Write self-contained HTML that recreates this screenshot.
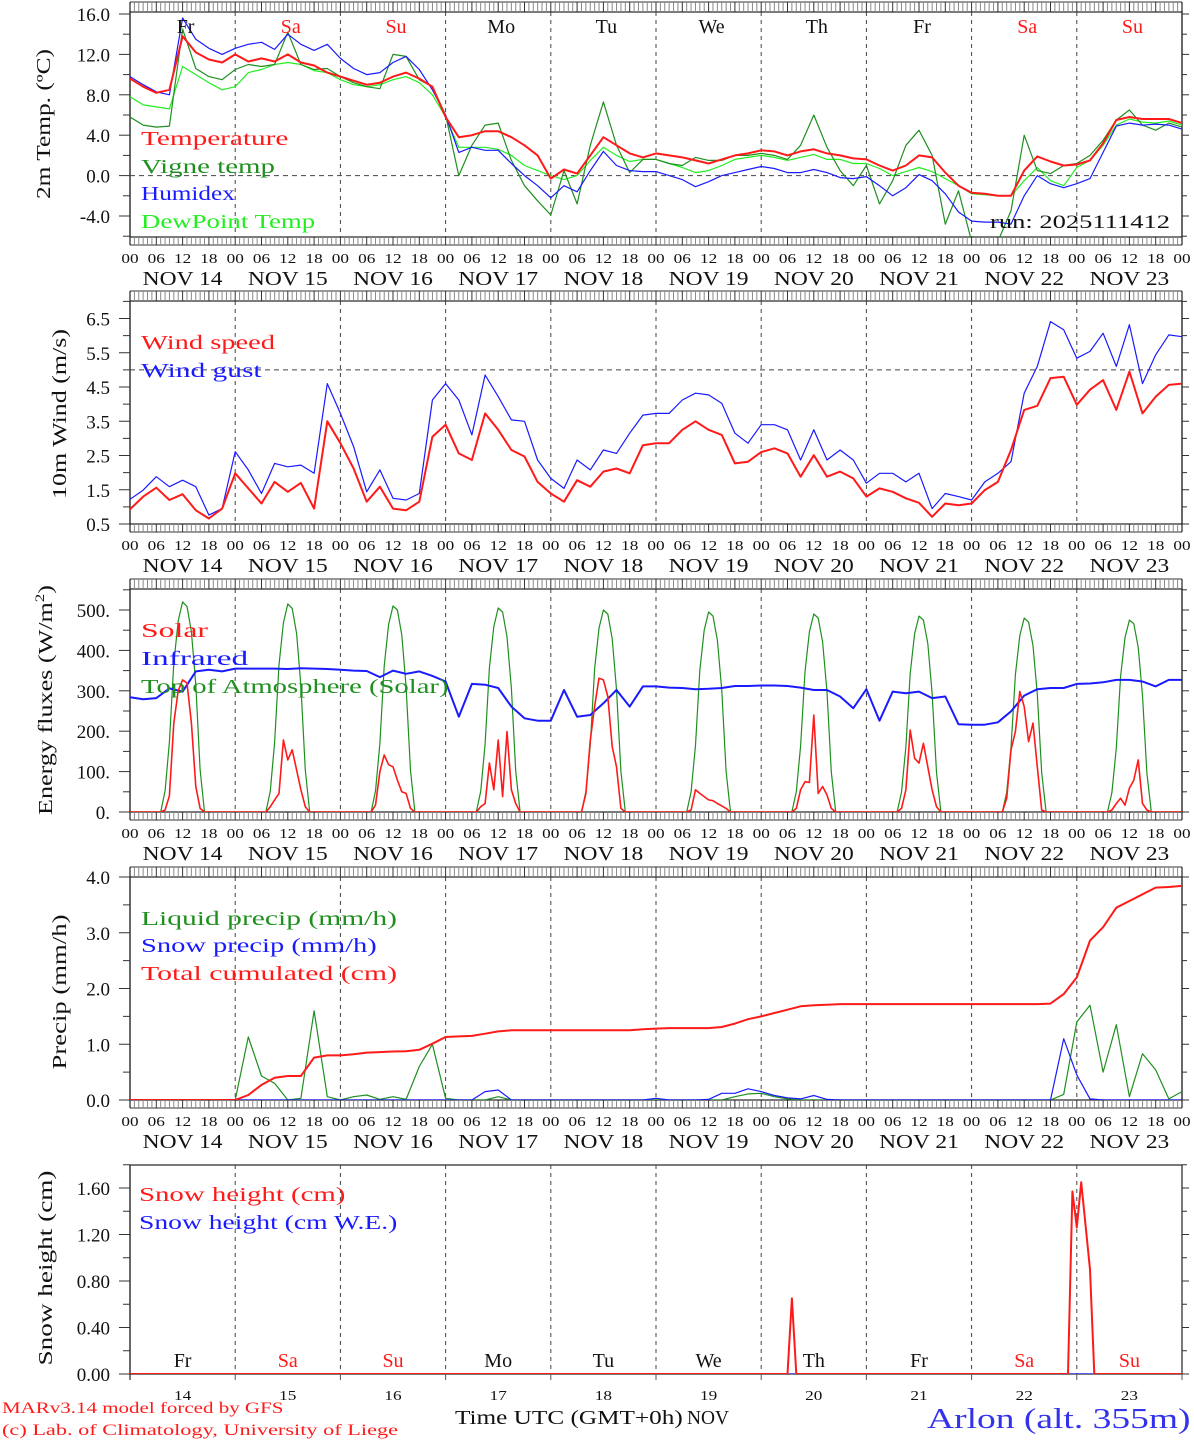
<!DOCTYPE html>
<html><head><meta charset="utf-8"><title>MAR forecast Arlon</title>
<style>html,body{margin:0;padding:0;background:#fff}svg{display:block}text{font-family:"Liberation Serif",serif}</style>
</head><body>
<svg id="chart" xmlns="http://www.w3.org/2000/svg" width="1194" height="1440" viewBox="0 0 1194 1440"></svg>
<script>
// ---------- DATA (3-hourly from NOV 14 00 UTC, 81 points) ----------
const dayNames = ["Fr","Sa","Su","Mo","Tu","We","Th","Fr","Sa","Su"];
const dayNums = ["14","15","16","17","18","19","20","21","22","23"];
const hourLabels = ["00","06","12","18"];
const tempTicks = [16,12,8,4,0,-4];
const windTicks = [6.5,5.5,4.5,3.5,2.5,1.5,0.5];
const fluxTicks = [500,400,300,200,100,0];
const precipTicks = [4,3,2,1,0];
const snowTicks = [1.6,1.2,0.8,0.4,0];

const temperature = [9.6,8.8,8.2,8.5,13.8,12.2,11.5,11.2, 12.0,11.3,11.6,11.3,12.0,11.2,10.9,10.2, 9.8,9.4,9.0,9.2,9.8,10.2,9.6,8.8, 5.8,3.8,4.0,4.4,4.4,3.8,3.0,2.0, -0.3,0.6,0.2,2.0,3.8,3.0,2.2,1.8, 2.2,2.0,1.8,1.5,1.2,1.6,2.0,2.2, 2.5,2.4,2.0,2.4,2.6,2.2,2.0,1.7, 1.6,1.0,0.5,1.0,2.0,1.8,0.3,-1.0, -1.7,-1.8,-2.0,-2.0,0.5,1.9,1.4,1.0, 1.1,1.5,3.2,5.5,5.8,5.6,5.6,5.6,5.2];
const vigneTemp = [5.8,5.0,4.8,4.9,14.5,10.6,9.8,9.5, 10.5,11.0,10.8,11.0,14.2,11.0,10.5,10.6, 9.8,9.2,8.8,8.6,12.0,11.8,9.5,8.8, 6.0,0.0,3.0,5.0,5.2,1.5,-1.0,-2.5, -3.9,0.5,-2.8,3.0,7.3,3.0,0.3,1.6, 1.6,1.2,1.0,1.8,1.5,1.5,2.0,2.0, 2.2,2.0,1.6,3.0,6.0,2.8,0.5,-1.0, 1.0,-2.8,-0.5,3.0,4.5,2.0,-4.8,-1.5, -6.5,-6.5,-6.5,-3.5,4.0,0.5,0.2,1.0, 1.2,2.0,3.5,5.5,6.5,5.0,4.5,5.2,4.8];
const humidex = [9.8,9.0,8.3,8.0,15.6,13.5,12.6,12.0, 12.6,13.0,13.2,12.5,14.0,13.0,12.4,13.0, 11.6,10.6,10.0,10.2,11.2,11.8,10.5,8.5, 6.0,2.3,2.8,2.5,2.5,1.2,0.0,-1.0, -2.2,-1.0,-1.6,0.5,2.4,1.0,0.5,0.4, 0.4,0.0,-0.4,-1.1,-0.6,0.0,0.3,0.6, 0.9,0.7,0.3,0.3,0.6,0.3,-0.2,-0.3, -0.1,-1.0,-2.0,-1.2,0.1,-0.5,-1.8,-3.6, -4.5,-4.6,-4.6,-4.8,-2.0,0.0,-0.8,-1.2, -0.8,-0.3,2.3,4.9,5.2,5.0,5.1,5.0,4.6];
const dewPoint = [7.8,7.0,6.8,6.6,10.8,10.0,9.2,8.5, 8.8,10.2,10.5,11.0,11.2,11.0,10.4,10.2, 9.5,9.0,8.8,9.0,9.5,9.8,9.2,8.0, 5.8,2.8,2.8,2.8,2.6,2.0,1.0,0.5, 0.0,-0.4,0.0,1.5,2.8,2.0,1.4,1.6, 1.6,1.2,0.8,0.3,0.5,1.0,1.6,1.8, 2.0,1.8,1.5,1.8,2.1,1.6,1.6,1.2, 1.2,0.7,0.0,0.4,0.8,0.4,-0.3,-1.0, -1.8,-1.9,-2.0,-2.0,-0.5,0.8,-0.5,-1.0, 0.8,1.5,3.0,5.0,5.6,5.3,5.2,5.4,5.0];

const windSpeed = [0.93,1.30,1.56,1.2,1.37,0.9,0.66,0.95, 1.98,1.54,1.1,1.73,1.44,1.7,0.95,3.5, 2.86,2.12,1.15,1.59,0.95,0.9,1.15,3.05, 3.4,2.56,2.37,3.73,3.25,2.66,2.47,1.73, 1.39,1.15,1.78,1.59,2.03,2.12,1.98,2.8, 2.86,2.86,3.25,3.5,3.25,3.1,2.27,2.32, 2.6,2.71,2.56,1.88,2.51,1.88,2.03,1.83, 1.3,1.54,1.44,1.25,1.12,0.71,1.1,1.05, 1.1,1.49,1.73,2.66,3.83,3.95,4.76,4.8, 3.98,4.42,4.7,3.83,4.95,3.73,4.22,4.56,4.6];
const windGust = [1.22,1.49,1.88,1.59,1.78,1.59,0.76,0.95, 2.61,2.08,1.39,2.27,2.17,2.22,1.98,4.6, 3.73,2.76,1.44,2.08,1.25,1.2,1.39,4.12, 4.6,4.12,3.1,4.85,4.22,3.54,3.5,2.37, 1.83,1.54,2.37,2.08,2.66,2.56,3.15,3.68, 3.73,3.73,4.12,4.32,4.27,4.02,3.15,2.86, 3.4,3.4,3.25,2.37,3.25,2.37,2.66,2.37, 1.69,1.98,1.98,1.73,1.98,0.95,1.39,1.3, 1.2,1.73,1.98,2.32,4.32,5.1,6.41,6.17, 5.34,5.54,6.07,5.1,6.32,4.6,5.44,6.02,5.97];

const infrared = [284,279,282,306,298,348,352,348, 355,355,355,355,354,356,355,354, 352,350,349,334,350,342,348,337, 323,236,317,315,307,261,232,226, 226,302,236,240,269,302,261,311, 311,308,307,304,305,307,312,312, 313,313,312,308,302,302,286,257, 304,226,298,294,298,282,286,217, 216,216,222,249,288,304,307,307, 317,318,321,327,327,323,311,327,327];

// hourly (241 points)
const solar = [
0,0,0,0,0,0,0,0,5,40,220,300,327,319,220,63,9,0,0,0,0,0,0,0,
0,0,0,0,0,0,0,0,13,30,46,178,129,154,104,55,13,0,0,0,0,0,0,0,
0,0,0,0,0,0,0,0,17,100,141,117,112,79,50,46,9,0,0,0,0,0,0,0,
0,0,0,0,0,0,0,0,13,21,121,55,178,38,199,55,21,0,0,0,0,0,0,0,
0,0,0,0,0,0,0,0,46,178,261,331,327,286,162,112,9,0,0,0,0,0,0,0,
0,0,0,0,0,0,0,0,5,55,46,38,30,28,21,15,9,0,0,0,0,0,0,0,
0,0,0,0,0,0,0,0,9,55,75,73,240,46,63,42,9,0,0,0,0,0,0,0,
0,0,0,0,0,0,0,0,9,55,203,133,121,170,112,55,13,0,0,0,0,0,0,0,
0,0,0,0,0,0,0,0,34,154,199,298,261,174,220,112,5,0,0,0,0,0,0,0,
0,0,0,0,0,0,0,0,5,21,34,17,59,79,129,21,5,0,0,0,0,0,0,0,
0];
const toaSolar = [
0,0,0,0,0,0,0,0,53,173,368,473,520,509,446,315,105,0,0,0,0,0,0,0,
0,0,0,0,0,0,0,0,52,172,364,468,515,504,442,312,104,0,0,0,0,0,0,0,
0,0,0,0,0,0,0,0,52,170,361,464,510,500,438,309,103,0,0,0,0,0,0,0,
0,0,0,0,0,0,0,0,51,168,357,459,505,495,434,306,102,0,0,0,0,0,0,0,
0,0,0,0,0,0,0,0,51,167,354,455,500,490,429,303,101,0,0,0,0,0,0,0,
0,0,0,0,0,0,0,0,50,165,350,450,495,485,425,300,100,0,0,0,0,0,0,0,
0,0,0,0,0,0,0,0,50,163,347,446,490,480,421,297,99,0,0,0,0,0,0,0,
0,0,0,0,0,0,0,0,49,162,343,441,485,475,417,294,98,0,0,0,0,0,0,0,
0,0,0,0,0,0,0,0,49,160,340,437,480,470,412,291,97,0,0,0,0,0,0,0,
0,0,0,0,0,0,0,0,48,158,336,432,475,466,408,288,96,0,0,0,0,0,0,0,
0];

const liquidPrecip = [0,0,0,0,0,0,0,0,0, 1.13,0.43,0.3,0,0.03,1.6,0.06,0,0.06,0.09,0.01,0.06,0.01,0.6,1.0,0.03,0,0,0,0.06,0, 0,0,0,0,0,0,0,0,0,0,0,0,0,0,0,0, 0.06,0.11,0.12,0.06,0.02, 0,0,0,0,0,0,0,0,0,0,0,0,0,0,0,0,0,0,0,0, 0.1,1.4,1.7,0.5,1.35,0.06,0.83,0.54,0.02,0.15];
const snowPrecip = [0,0,0,0,0,0,0,0,0,0,0,0,0,0,0,0,0,0,0,0,0,0,0,0,0,0,0, 0.15,0.18, 0,0,0,0,0,0,0,0,0,0,0, 0.03, 0,0,0, 0.01,0.12,0.12,0.2,0.15,0.08,0.04,0.02,0.08,0.01, 0,0,0,0,0,0,0,0,0,0,0,0,0,0,0,0,0, 1.1,0.45,0.02, 0,0,0,0,0,0,0];
const totalCum = [0,0,0,0,0,0,0,0,0, 0.09,0.27,0.40,0.43,0.43,0.76,0.80,0.80,0.82,0.85,0.86,0.87,0.875,0.90,1.01,1.13,1.14,1.15,1.19,1.23, 1.25,1.25,1.25,1.25,1.25,1.25,1.25,1.25,1.25,1.25, 1.27,1.28, 1.29,1.29,1.29,1.29, 1.31,1.37,1.45,1.50,1.56,1.62,1.68,1.70,1.71, 1.72,1.72,1.72,1.72,1.72,1.72,1.72,1.72,1.72,1.72,1.72,1.72,1.72,1.72,1.72,1.72, 1.73,1.90,2.20,2.86,3.10,3.45,3.57,3.69,3.81,3.82,3.84];

const snowHours = [0,150,151,152,214,215,216,217,219,220,240];
const snowHeight = [0,0,0.65,0,0,1.57,1.26,1.65,0.9,0,0];
const snowWE = [0,0,0,0,0,0,0,0,0,0,0];

// ---------- DRAWING ----------
const NS = "http://www.w3.org/2000/svg";
const svg = document.getElementById("chart");
const X0 = 130, X1 = 1182;
function xh(h){ return X0 + h*(X1-X0)/240; }
function mk(tag, attrs, parent){ const e=document.createElementNS(NS,tag); for(const k in attrs) e.setAttribute(k,attrs[k]); (parent||svg).appendChild(e); return e; }
function txt(x,y,s,size,fill,anchor,cw,parent){ const a={x:x,y:y,'font-size':size,fill:fill||'#000','text-anchor':anchor||'start'}; if(cw){a.textLength=(s.length*cw).toFixed(1);a.lengthAdjust='spacingAndGlyphs';} const t=mk('text',a,parent); t.textContent=s; return t; }

const RED="#ff1a1a", BLUE="#1a1aff", DGREEN="#1f8f1f", LGREEN="#22ee22";

function makePanel(p){
  const g = mk('g',{});
  
  
  const ys = v => p.yA + (v - p.vA)*(p.yB - p.yA)/(p.vB - p.vA);
  p.ys = ys;
  const cid = 'clip-'+p.name;
  const cp = mk('clipPath',{id:cid},g);
  mk('rect',{x:X0,y:p.top,width:X1-X0,height:p.bot-p.top},cp);
  const fr = mk('rect',{x:X0,y:p.top,width:X1-X0,height:p.bot-p.top,fill:'none',stroke:'#222','stroke-width':1.2},g);
  
  
  if(p.strips){
    [[p.top-10,p.top],[p.bot,p.bot+8]].forEach(([a,b])=>{
      mk('line',{x1:X0,y1:(a===p.top-10?a:b),x2:X1,y2:(a===p.top-10?a:b),stroke:'#333','stroke-width':1},g);
      for(let h=0;h<=240;h++){ const x=xh(h); mk('line',{x1:x,y1:a,x2:x,y2:b,stroke:(h%6===0?'#333':'#888'),'stroke-width':1},g); }
    });
    mk('line',{x1:X0,y1:p.top-10,x2:X0,y2:p.bot+8,stroke:'#222','stroke-width':1.2},g);
    mk('line',{x1:X1,y1:p.top-10,x2:X1,y2:p.bot+8,stroke:'#222','stroke-width':1.2},g);
  } else {
    mk('line',{x1:X0,y1:p.top,x2:X0,y2:p.bot+6,stroke:'#222','stroke-width':1.2},g);
    for(let d=1; d<=10; d++){ mk('line',{x1:xh(d*24),y1:p.bot,x2:xh(d*24),y2:p.bot+6,stroke:'#555'},g); }
  }
  for(let d=1; d<10; d++){ const x=xh(d*24); const l=mk('line',{x1:x,y1:p.top,x2:x,y2:p.bot,stroke:'#444','stroke-width':1,'stroke-dasharray':'4,4'},g);   }
  if(p.hline!==undefined){ mk('line',{x1:X0,y1:ys(p.hline),x2:X1,y2:ys(p.hline),stroke:'#444','stroke-dasharray':'5,4'},g); }
  for(let v=p.minorStart; v<=p.minorEnd+1e-9; v+=p.minorStep){
    const y=ys(v); const major = p.ticks.some(t=>Math.abs(t-v)<1e-6);
    mk('line',{x1:X0-(major?11:7),y1:y,x2:X0,y2:y,stroke:'#333'},g);
    mk('line',{x1:X1,y1:y,x2:X1+(major?7:5),y2:y,stroke:'#333'},g);
  }
  p.ticks.forEach(v=>{ const t=txt(110,ys(v)+7,p.fmt(v),19,'#111','end',null,g);   });
  const tt = mk('text',{x:0,y:0,'font-size':20,fill:'#111','text-anchor':'middle',textLength:p.titleLen,lengthAdjust:'spacingAndGlyphs',transform:`translate(${p.titleX},${p.titleY}) rotate(-90)`},g);
  
  
  if(p.titleSup){ tt.textContent=p.title; const ts=mk('tspan',{dy:-8,'font-size':13},tt); ts.textContent=p.titleSup; const t2=mk('tspan',{dy:8},tt); t2.textContent=')'; }
  else tt.textContent=p.title;
  if(p.strips){
    for(let d=0; d<10; d++){
      for(let k=0;k<4;k++){ const t=txt(xh(d*24+k*6),p.bot+26,hourLabels[k],14,'#111','middle',8.6,g);   }
      const t=txt(xh(d*24+12),p.bot+48,'NOV '+dayNums[d],20,'#111','middle',13.3,g);  
    }
    const t=txt(xh(240),p.bot+26,'00',14,'#111','middle',8.6,g);  
  }
  p.g = g; p.clip = cid;
  return p;
}
function series(p, hours, vals, color, w, name){
  const pts = vals.map((v,i)=>xh(hours[i]).toFixed(1)+','+p.ys(v).toFixed(1)).join(' ');
  const pl = mk('polyline',{points:pts,fill:'none',stroke:color,'stroke-width':w,'stroke-linejoin':'round','clip-path':`url(#${p.clip})`},p.g);
  
  
}
function legend(p, x, y, s, color, name, cw){
  const t = txt(x,y,s,20,color,'start',cw||13.4,p.g);
  
  
}
const h3 = temperature.map((_,i)=>i*3);
const h1 = solar.map((_,i)=>i);

const P1 = makePanel({name:'temperature-panel',top:12,bot:237,vA:16,yA:14,vB:-4,yB:216,strips:true,hline:0,ticks:tempTicks,minorStart:-6,minorEnd:16,minorStep:2,fmt:v=>v.toFixed(1),title:'2m Temp. (ºC)',titleLen:150,titleX:50,titleY:124});
series(P1,h3,dewPoint,LGREEN,1.2,'dewpoint-line');
series(P1,h3,vigneTemp,DGREEN,1.2,'vigne-temp-line');
series(P1,h3,humidex,BLUE,1.2,'humidex-line');
series(P1,h3,temperature,RED,2,'temperature-line');
legend(P1,141,145,'Temperature',RED,'legend-temperature');
legend(P1,141,173,'Vigne temp',DGREEN,'legend-vigne-temp');
legend(P1,141,200,'Humidex',BLUE,'legend-humidex');
legend(P1,141,228,'DewPoint Temp',LGREEN,'legend-dewpoint');
{ const t=txt(990,228,'run: 2025111412',19,'#111','start',12,P1.g);   }
for(let d=0; d<10; d++){ const c=(dayNames[d]==='Sa'||dayNames[d]==='Su')?RED:'#111'; const t=txt(xh(d*24+12)+3,33,dayNames[d],20,c,'middle',null,P1.g);   }

const P2 = makePanel({name:'wind-panel',top:301,bot:524,vA:6.5,yA:318.5,vB:0.5,yB:524,strips:true,hline:5,ticks:windTicks,minorStart:0.5,minorEnd:7,minorStep:0.5,fmt:v=>v.toFixed(1),title:'10m Wind (m/s)',titleLen:170,titleX:66,titleY:414});
series(P2,h3,windGust,BLUE,1.2,'wind-gust-line');
series(P2,h3,windSpeed,RED,2,'wind-speed-line');
legend(P2,141,349,'Wind speed',RED,'legend-wind-speed');
legend(P2,141,377,'Wind gust',BLUE,'legend-wind-gust');

const P3 = makePanel({name:'energy-flux-panel',top:589,bot:812,vA:500,yA:610,vB:0,yB:812,strips:true,ticks:fluxTicks,minorStart:0,minorEnd:550,minorStep:50,fmt:v=>v.toFixed(0)+'.',title:'Energy fluxes (W/m',titleSup:'2',titleLen:230,titleX:52,titleY:700});
series(P3,h1,toaSolar,DGREEN,1.2,'toa-solar-line');
series(P3,h3,infrared,BLUE,2,'infrared-line');
series(P3,h1,solar,RED,1.6,'solar-line');
legend(P3,141,637,'Solar',RED,'legend-solar');
legend(P3,141,665,'Infrared',BLUE,'legend-infrared');
legend(P3,141,693,'Top of Atmosphere (Solar)',DGREEN,'legend-toa',12.3);

const P4 = makePanel({name:'precip-panel',top:877,bot:1100,vA:4,yA:877,vB:0,yB:1100,strips:true,ticks:precipTicks,minorStart:0,minorEnd:4,minorStep:0.5,fmt:v=>v.toFixed(1),title:'Precip (mm/h)',titleLen:155,titleX:66,titleY:992});
series(P4,h3,liquidPrecip,DGREEN,1.2,'liquid-precip-line');
series(P4,h3,snowPrecip,BLUE,1.2,'snow-precip-line');
series(P4,h3,totalCum,RED,2,'total-cumulated-line');
legend(P4,141,925,'Liquid precip (mm/h)',DGREEN,'legend-liquid-precip',12.8);
legend(P4,141,952,'Snow precip (mm/h)',BLUE,'legend-snow-precip',13.1);
legend(P4,141,980,'Total cumulated (cm)',RED,'legend-total-cumulated',12.8);

const P5 = makePanel({name:'snow-height-panel',top:1165,bot:1374,vA:1.6,yA:1188,vB:0,yB:1374,strips:false,ticks:snowTicks,minorStart:0,minorEnd:1.8,minorStep:0.2,fmt:v=>v.toFixed(2),title:'Snow height (cm)',titleLen:195,titleX:52,titleY:1268});
series(P5,snowHours,snowWE,BLUE,1.2,'snow-we-line');
series(P5,snowHours,snowHeight,RED,2,'snow-height-line');
legend(P5,139,1201,'Snow height (cm)',RED,'legend-snow-height',12.9);
legend(P5,139,1229,'Snow height (cm W.E.)',BLUE,'legend-snow-we',12.3);
for(let d=0; d<10; d++){
  const c=(dayNames[d]==='Sa'||dayNames[d]==='Su')?RED:'#111';
  const t=txt(xh(d*24+12),1367,dayNames[d],20,c,'middle',null,P5.g);  
  const n=txt(xh(d*24+12),1400,dayNums[d],14,'#111','middle',8.6,P5.g);  
}

{ let t=txt(2,1413,'MARv3.14 model forced by GFS',16,RED,'start',10.05);  
  t=txt(2,1435,'(c) Lab. of Climatology, University of Liege',16,RED,'start',9.0);  
  t=txt(455,1424,'Time UTC (GMT+0h)',20,'#111','start',13.4);  
  t=txt(687,1424,'NOV',20,'#111','start',14);  
  t=txt(927,1428,'Arlon (alt. 355m)',28,'#3333ee','start',15.5);   }
</script>
</body></html>
